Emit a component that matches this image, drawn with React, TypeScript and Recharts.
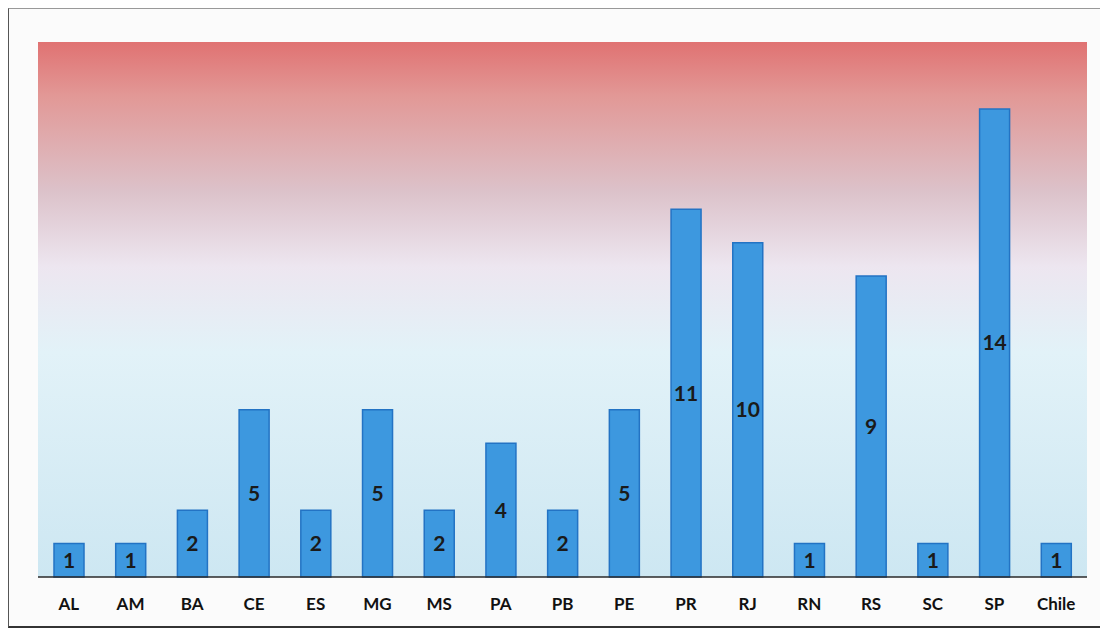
import { BarChart, Bar, XAxis, YAxis, CartesianGrid, LabelList } from "recharts"

const states = ["AL", "AM", "BA", "CE", "ES", "MG", "MS", "PA", "PB", "PE", "PR", "RJ", "RN", "RS", "SC", "SP", "Chile"]
const students = [1, 1, 2, 5, 2, 5, 2, 4, 2, 5, 11, 10, 1, 9, 1, 14, 1]

const data = states.map((name, i) => ({ name, value: students[i] }))

export default function App() {
  return (
    <div
      style={{
        width: 1091,
        height: 617,
        borderLeft: "1px solid #555",
        borderTop: "1px solid #999",
        borderBottom: "2px solid #333",
        background: "#fbfbfb",
      }}
    >
      <BarChart width={1091} height={617} data={data} margin={{ top: 33, right: 13, left: 29, bottom: 0 }} barSize={30}>
        <defs>
          <linearGradient id="bg" x1="0" y1="0" x2="0" y2="1">
            <stop offset="0%" stopColor="#e07272" />
            <stop offset="10%" stopColor="#e29896" />
            <stop offset="28%" stopColor="#dcc2ca" />
            <stop offset="42%" stopColor="#ede6f0" />
            <stop offset="58%" stopColor="#e2f2f8" />
            <stop offset="100%" stopColor="#cde7f2" />
          </linearGradient>
        </defs>
        <CartesianGrid horizontal={false} vertical={false} fill="url(#bg)" stroke="none" />
        <XAxis
          dataKey="name"
          axisLine={{ stroke: "#2a2a2a", strokeWidth: 1.5 }}
          tickLine={false}
          tickSize={0}
          tickMargin={21}
          height={49}
          interval={0}
          tick={{ fill: "#111", fontSize: 17, fontWeight: 700, fontFamily: "Lato" }}
        />
        <YAxis hide domain={[0, 16]} />
        <Bar dataKey="value" fill="#3d98df" stroke="#2373c4" strokeWidth={1.5} isAnimationActive={false}>
          <LabelList
            dataKey="value"
            position="center"
            fill="#1a1a1a"
            fontSize={21}
            fontWeight={700}
            fontFamily="Lato"
          />
        </Bar>
      </BarChart>
    </div>
  )
}
